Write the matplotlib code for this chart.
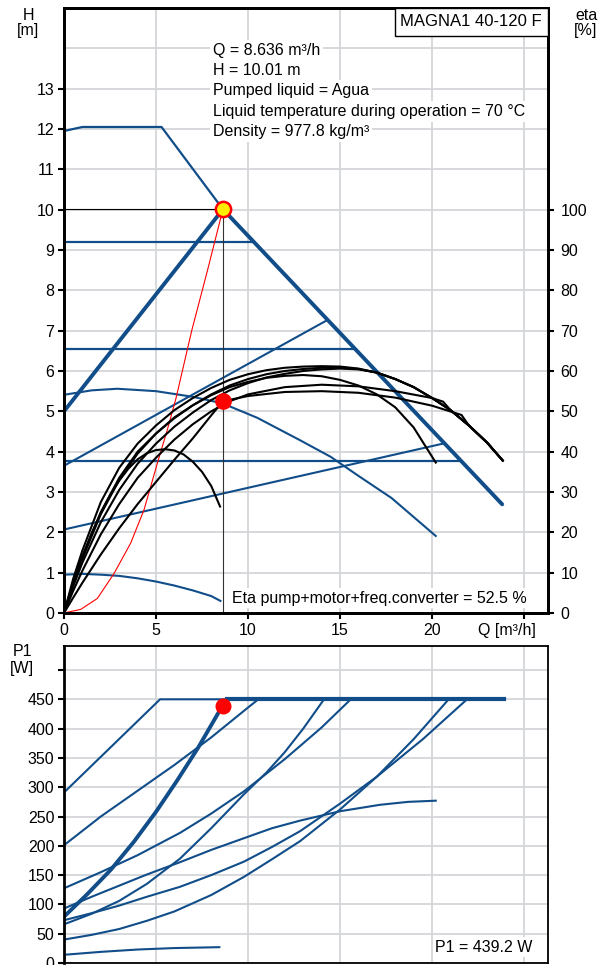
import matplotlib.pyplot as plt
from matplotlib.patches import Rectangle

plt.rcParams['font.family'] = ['Liberation Sans', 'DejaVu Sans']

# figure size in pixels
W, HP = 604, 965
blue = '#104d89'
grid_c = '#d3d6d9'

# duty point
q_duty = 8.636
h_duty = 10.01
eta_duty = 52.5
p1_duty = 439.2

# head curves, Q [m3/h] / H [m]
max_q = [0, 1, 5.3, 8.636, 23.84]
max_h = [11.95, 12.05, 12.05, 10.01, 2.68]
sel_q = [0, 8.636, 23.84]
sel_h = [5.0, 10.01, 2.68]
pp2_q = [0, 14.3]
pp2_h = [3.65, 7.26]
pp1_q = [0, 20.6]
pp1_h = [2.07, 4.2]
cp_h = [9.2, 6.55, 3.78]
cp_end = [10.35, 15.75, 21.55]
ii_q = [0, 1.5, 2.9, 5, 7, 8.6, 10.5, 12.8, 14.5, 16, 17.8, 19, 20.2]
ii_h = [5.41, 5.52, 5.56, 5.5, 5.36, 5.2, 4.84, 4.29, 3.87, 3.4, 2.85, 2.38, 1.91]
i_q = [0, 1, 2, 3, 4, 5, 6, 7, 8, 8.5]
i_h = [0.95, 0.97, 0.95, 0.92, 0.86, 0.78, 0.68, 0.56, 0.42, 0.3]
red_q = [0, 0.91, 1.81, 2.72, 3.62, 4.35, 5.07, 5.62, 6.1, 6.94, 7.8, 8.636]
red_h = [0, 0.09, 0.36, 0.98, 1.73, 2.56, 3.71, 4.55, 5.35, 7.0, 8.5, 10.01]

# efficiency curves, eta [%]
eta_q_a = [0, 0.5, 1, 1.5, 2, 2.5, 3, 3.5, 4, 4.5, 5, 5.5, 6, 6.5, 7, 7.5, 8, 8.48]
eta_a = [0, 7.5, 14, 19.8, 24.8, 29.2, 32.8, 35.8, 38.1, 39.6, 40.4, 40.6, 40.3, 39.3, 37.5, 35, 31.5, 26.4]
eta_q_b = [0, 0.5, 1, 2, 3, 4, 5, 6, 7, 8, 9, 10, 11, 12, 13, 14, 15, 16, 17, 18, 19, 20.2]
eta_b = [0, 7.2, 13.5, 24.5, 33, 39.5, 44.5, 48.5, 51.5, 54, 56, 57.3, 58.3, 58.8, 59, 58.7, 57.8, 56.4, 54.2, 51, 46, 37.3]
eta_q_c = [0, 0.5, 1, 2, 3, 4, 5, 6, 7, 8, 9, 10, 11, 12, 13, 14, 15, 16, 17, 18, 19, 20, 21, 22, 23, 23.84]
eta_c1 = [0, 8.5, 15.5, 27.5, 36, 42, 46.5, 50.3, 53.3, 55.8, 57.8, 59.2, 60.2, 60.8, 61.1, 61.2, 61.1, 60.6, 59.6, 58, 56, 53.3, 50.3, 46.5, 42.2, 37.8]
eta_c2 = [0, 7.5, 14, 25, 33.5, 40, 44.5, 48.3, 51.5, 54.2, 56.4, 58, 59.2, 60, 60.5, 60.8, 60.8, 60.5, 59.6, 58, 56, 53.3, 50.3, 46.5, 42.2, 37.8]
eta_c3 = [0, 6.6, 12.5, 22.5, 30.5, 37, 42, 46.2, 49.7, 52.8, 55.2, 57, 58.4, 59.3, 60, 60.4, 60.6, 60.4, 59.6, 58, 56, 53.3, 50.3, 46.5, 42.2, 37.8]
eta_q_d2 = [0, 0.5, 1, 2, 3, 4, 5, 6, 7, 8, 9, 10, 12, 14, 16, 18, 20, 20.6, 21, 22, 23, 23.84]
eta_d2 = [0, 5.5, 10.5, 19.5, 27, 33.5, 38.5, 43, 46.8, 50, 52.5, 54.2, 56, 56.6, 56.2, 55, 53.3, 52.4, 50.3, 46.5, 42.2, 37.8]
eta_q_d1 = [0, 0.5, 1, 2, 3, 4, 5, 6, 7, 8, 8.636, 10, 12, 14, 16, 18, 20, 21.6, 22, 23, 23.84]
eta_d1 = [0, 3.8, 7.5, 14.5, 21, 27, 32.5, 38, 43.3, 49, 52.5, 53.8, 54.8, 55, 54.6, 53.4, 51.4, 49.1, 46.5, 42.2, 37.8]

# power curves, P1 [W]
p_max_q = [0, 5.22, 23.9]
p_max = [291, 450, 450]
p_sel_q = [0, 1.25, 2.54, 3.8, 5, 6.16, 7.3, 8.5, 8.636]
p_sel = [79, 117, 159, 207, 258, 312, 368, 433, 439.2]
p_top_q = [8.84, 23.9]
p_top = [450, 450]
p_cp3_q = [0, 2, 4, 6, 8, 10, 10.56]
p_cp3 = [201, 250, 294, 338, 385, 436, 450]
p_cp2_q = [0, 2, 4, 6.3, 8, 9.78, 12, 14, 15.58]
p_cp2 = [127.5, 155, 184, 222, 255, 293, 348, 402, 450]
p_ii_q = [0, 1.5, 3, 4.5, 6.3, 8, 9.78, 11.3, 12.83, 15, 17.17, 18.7, 20.2]
p_ii = [93, 113, 132, 151, 172, 193, 213, 230, 243, 259, 270, 275, 277]
p_pp2_q = [0, 1.5, 3, 4.5, 6.3, 8, 9.78, 11, 12, 13, 14.13]
p_pp2 = [66, 84, 106, 135, 178, 230, 288, 325, 360, 400, 450]
p_cp1_q = [0, 1.5, 3, 4.5, 6.3, 8, 9.78, 11.3, 12.83, 15, 17, 19.5, 21.9]
p_cp1 = [73, 85, 98, 113, 130, 150, 173, 198, 225, 272, 318, 382, 450]
p_pp1_q = [0, 1.5, 3, 4.5, 6, 8, 9.78, 11.3, 12.83, 15, 17, 19, 20.9]
p_pp1 = [40, 48, 58, 72, 88, 116, 147, 177, 208, 262, 318, 382, 450]
p_i_q = [0, 2, 4, 6, 8.44]
p_i = [14, 19, 23, 25.5, 27]


def box(l, t, r, b):
    return [l / W, 1 - b / HP, (r - l) / W, (b - t) / HP]


def fx(x):
    return x / W


def fy(y):
    return 1 - y / HP


fig = plt.figure(figsize=(W / 100, HP / 100), dpi=100)

# ---------- top panel: head + efficiency ----------
ax = fig.add_axes(box(64, 8, 548, 613))
ax.set_xlim(0, 26.3)
ax.set_ylim(0, 15)
ax.set_axisbelow(True)
ax.set_xticks([0, 5, 10, 15, 20, 25])
ax.set_xticklabels(['0', '5', '10', '15', '20', ''])
ax.set_yticks(range(14))
ax.grid(color=grid_c, lw=1.3)
ax.axhline(14, color=grid_c, lw=1.3, zorder=0.5)
ax.tick_params(direction='out', length=4, width=1.5, labelsize=11.5, pad=3)
for s in ax.spines.values():
    s.set_linewidth(2)

ax.plot(max_q, max_h, color=blue, lw=1.6)
ax.plot(sel_q, sel_h, color=blue, lw=2.8, solid_capstyle='butt')
ax.plot(pp2_q, pp2_h, color=blue, lw=1.5)
ax.plot(pp1_q, pp1_h, color=blue, lw=1.5)
for h, e in zip(cp_h, cp_end):
    ax.plot([0, e], [h, h], color=blue, lw=1.6)
ax.plot(ii_q, ii_h, color=blue, lw=1.5)
ax.plot(i_q, i_h, color=blue, lw=1.5)
ax.plot([0, q_duty], [h_duty, h_duty], color='black', lw=0.8)
ax.plot([q_duty, q_duty], [0, h_duty], color='#333333', lw=0.8)
ax.plot(red_q, red_h, color='red', lw=0.8)
ax.plot(q_duty, h_duty, 'o', ms=11, mfc='#ffee00', mec='red', mew=1.8, zorder=6)

ax2 = ax.twinx()
ax2.set_ylim(0, 150)
ax2.set_yticks(range(0, 101, 10))
ax2.tick_params(direction='out', length=4, width=1.5, labelsize=11.5, pad=5)
for s in ax2.spines.values():
    s.set_linewidth(2)
for q, e in [(eta_q_a, eta_a), (eta_q_b, eta_b), (eta_q_c, eta_c1), (eta_q_c, eta_c2),
             (eta_q_c, eta_c3), (eta_q_d2, eta_d2), (eta_q_d1, eta_d1)]:
    ax2.plot(q, e, color='black', lw=1.5)
ax2.plot(q_duty, eta_duty, 'o', ms=11, color='red', zorder=6)

info = ['Q = 8.636 m³/h', 'H = 10.01 m', 'Pumped liquid = Agua',
        'Liquid temperature during operation = 70 °C', 'Density = 977.8 kg/m³']
for k, t in enumerate(info):
    fig.text(fx(213), fy(50.5 + 20.2 * k), t, fontsize=11.5, va='center', ha='left',
             bbox=dict(facecolor='white', edgecolor='none', pad=2.2))

fig.patches.append(Rectangle((fx(395), fy(36)), (548 - 395) / W, 28 / HP, transform=fig.transFigure,
                             facecolor='white', edgecolor='black', lw=1))
fig.text(fx(471), fy(22), 'MAGNA1 40-120 F', fontsize=12, ha='center', va='center')

fig.text(fx(232), fy(598), 'Eta pump+motor+freq.converter = 52.5 %', fontsize=11.5, va='center',
         bbox=dict(facecolor='white', edgecolor='none', pad=1.5))
fig.text(fx(536), fy(630), 'Q [m³/h]', fontsize=11.5, ha='right', va='center')
fig.text(fx(28), fy(16), 'H', fontsize=11.5, ha='center', va='center')
fig.text(fx(28), fy(31), '[m]', fontsize=11.5, ha='center', va='center')
fig.text(fx(586), fy(16), 'eta', fontsize=11.5, ha='center', va='center')
fig.text(fx(586), fy(31), '[%]', fontsize=11.5, ha='center', va='center')

# ---------- bottom panel: power ----------
bx = fig.add_axes(box(64, 646, 548, 963))
bx.set_xlim(0, 26.3)
bx.set_ylim(0, 541)
bx.set_axisbelow(True)
bx.set_xticks([5, 10, 15, 20, 25])
bx.set_yticks(range(0, 501, 50))
bx.set_yticklabels([str(v) for v in range(0, 451, 50)] + [''])
bx.grid(color=grid_c, lw=1.3)
bx.tick_params(axis='x', length=0, labelbottom=False)
bx.tick_params(axis='y', direction='out', length=4, width=1.5, labelsize=11.5, pad=3)
for s in bx.spines.values():
    s.set_linewidth(1.3)
bx.spines['left'].set_linewidth(2)

bx.plot(p_max_q, p_max, color=blue, lw=1.5)
bx.plot(p_top_q, p_top, color=blue, lw=3)
bx.plot(p_sel_q, p_sel, color=blue, lw=2.8)
for q, p in [(p_cp3_q, p_cp3), (p_cp2_q, p_cp2), (p_ii_q, p_ii), (p_pp2_q, p_pp2),
             (p_cp1_q, p_cp1), (p_pp1_q, p_pp1), (p_i_q, p_i)]:
    bx.plot(q, p, color=blue, lw=1.5)
bx.plot(q_duty, p1_duty, 'o', ms=10.5, color='red', zorder=6)

fig.text(fx(435), fy(947), 'P1 = 439.2 W', fontsize=11.5, va='center',
         bbox=dict(facecolor='white', edgecolor='none', pad=1.5))
fig.text(fx(22), fy(652), 'P1', fontsize=11.5, ha='center', va='center')
fig.text(fx(22), fy(668), '[W]', fontsize=11.5, ha='center', va='center')

fig.savefig('out.png', dpi=100)
